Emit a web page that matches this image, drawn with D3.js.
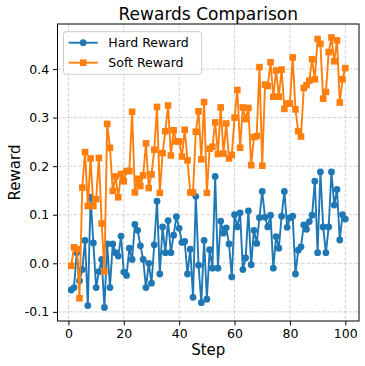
<!DOCTYPE html>
<html>
<head>
<meta charset="utf-8">
<script src="https://cdn.jsdelivr.net/npm/d3@7"></script>
<style>
  body { margin: 0; background: #fff; }
  text { font-family: 'DejaVu Sans', sans-serif; fill: #000; }
</style>
</head>
<body>
<div id="chart"></div>
<script>
/* global d3 */

// values, steps 1..100
const hardReward = [
  -0.055, -0.050, 0.022, -0.036, -0.013, 0.047, -0.087, 0.136, 0.042, -0.050,
  -0.017, 0.008, -0.091, 0.040, -0.050, 0.040, 0.022, 0.015, 0.056, -0.018,
  -0.025, 0.031, 0.008, 0.080, 0.068, 0.036, 0.008, -0.050, 0.000, -0.041,
  0.038, 0.128, -0.022, 0.075, 0.022, 0.088, 0.022, 0.058, 0.096, 0.072,
  0.043, 0.045, -0.022, 0.029, -0.070, 0.138, -0.004, -0.081, 0.047, -0.074,
  0.028, -0.010, 0.179, -0.010, 0.087, 0.062, 0.073, 0.040, -0.028, 0.100,
  0.075, 0.104, -0.013, 0.011, 0.108, -0.003, 0.068, 0.041, 0.094, 0.148,
  0.095, 0.075, 0.099, -0.010, 0.055, 0.031, 0.097, 0.148, 0.074, 0.094,
  0.097, -0.022, 0.027, 0.034, 0.079, 0.070, 0.086, 0.099, 0.169, 0.022,
  0.188, 0.075, 0.022, 0.075, 0.188, 0.120, 0.152, 0.048, 0.100, 0.091,
];

const softReward = [
  -0.005, 0.033, 0.029, -0.072, 0.156, 0.229, 0.118, 0.216, 0.118, 0.132,
  0.217, 0.082, -0.017, 0.287, 0.238, 0.149, 0.179, 0.136, 0.184, 0.169,
  0.190, 0.190, 0.312, 0.146, 0.174, 0.159, 0.181, 0.247, 0.155, 0.183,
  0.234, 0.322, 0.145, 0.227, 0.272, 0.325, 0.222, 0.274, 0.251, 0.251,
  0.220, 0.275, 0.212, 0.146, 0.146, 0.271, 0.313, 0.214, 0.332, 0.145,
  0.236, 0.240, 0.290, 0.225, 0.321, 0.226, 0.288, 0.216, 0.223, 0.300,
  0.357, 0.238, 0.321, 0.297, 0.320, 0.202, 0.260, 0.262, 0.404, 0.201,
  0.368, 0.365, 0.414, 0.343, 0.397, 0.343, 0.399, 0.318, 0.329, 0.329,
  0.424, 0.317, 0.272, 0.261, 0.361, 0.367, 0.376, 0.420, 0.379, 0.462,
  0.452, 0.339, 0.353, 0.435, 0.465, 0.416, 0.459, 0.331, 0.379, 0.402,
];

const steps = hardReward.map((v, i) => i + 1);
const seriesNames = ['Hard Reward', 'Soft Reward'];
const xTicks = [0, 20, 40, 60, 80, 100];
const yTicks = [-0.1, 0.0, 0.1, 0.2, 0.3, 0.4];

const width = 365;
const height = 366;
const plot = { left: 57.5, right: 359, top: 24, bottom: 321 };
const blue = '#1f77b4';
const orange = '#ff7f0e';
const dotR = 3.4;
const sq = 6.6;

const svg = d3.select('#chart')
  .append('svg')
  .attr('width', width)
  .attr('height', height);

// matplotlib style 5% margins
const xPad = (d3.max(steps) - d3.min(steps)) * 0.05;
const x = d3.scaleLinear()
  .domain([d3.min(steps) - xPad, d3.max(steps) + xPad])
  .range([plot.left, plot.right]);

const allVals = hardReward.concat(softReward);
const yMin = d3.min(allVals);
const yMax = d3.max(allVals);
const yPad = (yMax - yMin) * 0.05;
const y = d3.scaleLinear()
  .domain([yMin - yPad, yMax + yPad])
  .range([plot.bottom, plot.top]);

// grid
const grid = svg.append('g')
  .attr('stroke', '#b0b0b0')
  .attr('stroke-opacity', 0.7)
  .attr('stroke-width', 0.8)
  .attr('stroke-dasharray', '3.7,1.6');

grid.selectAll('.gx')
  .data(xTicks)
  .enter()
  .append('line')
  .attr('x1', (d) => x(d))
  .attr('x2', (d) => x(d))
  .attr('y1', plot.top)
  .attr('y2', plot.bottom);

grid.selectAll('.gy')
  .data(yTicks)
  .enter()
  .append('line')
  .attr('x1', plot.left)
  .attr('x2', plot.right)
  .attr('y1', (d) => y(d))
  .attr('y2', (d) => y(d));

// series
const line = d3.line()
  .x((d, i) => x(steps[i]))
  .y((d) => y(d));

svg.append('path')
  .datum(hardReward)
  .attr('fill', 'none')
  .attr('stroke', blue)
  .attr('stroke-width', 1.9)
  .attr('stroke-linejoin', 'round')
  .attr('d', line);

svg.append('g')
  .selectAll('circle')
  .data(hardReward)
  .enter()
  .append('circle')
  .attr('cx', (d, i) => x(steps[i]))
  .attr('cy', (d) => y(d))
  .attr('r', dotR)
  .attr('fill', blue);

svg.append('path')
  .datum(softReward)
  .attr('fill', 'none')
  .attr('stroke', orange)
  .attr('stroke-width', 1.9)
  .attr('stroke-linejoin', 'round')
  .attr('d', line);

svg.append('g')
  .selectAll('rect')
  .data(softReward)
  .enter()
  .append('rect')
  .attr('x', (d, i) => x(steps[i]) - sq / 2)
  .attr('y', (d) => y(d) - sq / 2)
  .attr('width', sq)
  .attr('height', sq)
  .attr('fill', orange);

// axes
const xAxis = svg.append('g')
  .attr('transform', `translate(0 ${plot.bottom})`)
  .call(d3.axisBottom(x).tickValues(xTicks).tickSize(4.4).tickPadding(4)
    .tickFormat(d3.format('d')));

const yAxis = svg.append('g')
  .attr('transform', `translate(${plot.left} 0)`)
  .call(d3.axisLeft(y).tickValues(yTicks).tickSize(4.4).tickPadding(4)
    .tickFormat((d) => d.toFixed(1)));

[xAxis, yAxis].forEach((ax) => {
  ax.select('.domain').remove();
  ax.selectAll('.tick line').attr('stroke', '#000').attr('stroke-width', 1);
  ax.selectAll('.tick text')
    .style('font-size', '12.5px')
    .style('font-family', "'DejaVu Sans', sans-serif")
    .attr('fill', '#000');
});

svg.append('rect')
  .attr('x', plot.left)
  .attr('y', plot.top)
  .attr('width', plot.right - plot.left)
  .attr('height', plot.bottom - plot.top)
  .attr('fill', 'none')
  .attr('stroke', '#000')
  .attr('stroke-width', 1);

// title and labels
svg.append('text')
  .attr('x', (plot.left + plot.right) / 2)
  .attr('y', 19.5)
  .attr('text-anchor', 'middle')
  .style('font-size', '17px')
  .text('Rewards Comparison');

svg.append('text')
  .attr('x', (plot.left + plot.right) / 2)
  .attr('y', 354.5)
  .attr('text-anchor', 'middle')
  .style('font-size', '15px')
  .text('Step');

svg.append('text')
  .attr('transform', `translate(20 ${(plot.top + plot.bottom) / 2}) rotate(-90)`)
  .attr('text-anchor', 'middle')
  .style('font-size', '15px')
  .text('Reward');

// legend
const legend = svg.append('g')
  .attr('transform', 'translate(63.5 31.7)');

legend.append('rect')
  .attr('width', 138.2)
  .attr('height', 42.6)
  .attr('rx', 2.5)
  .attr('fill', '#fff')
  .attr('fill-opacity', 0.8)
  .attr('stroke', '#cccccc')
  .attr('stroke-width', 1);

const colors = [blue, orange];
seriesNames.forEach((name, i) => {
  const row = legend.append('g')
    .attr('transform', `translate(0 ${11 + i * 20})`);
  row.append('line')
    .attr('x1', 5.2)
    .attr('x2', 34.2)
    .attr('stroke', colors[i])
    .attr('stroke-width', 1.9);
  if (i === 0) {
    row.append('circle')
      .attr('cx', 19.7)
      .attr('r', dotR)
      .attr('fill', colors[i]);
  } else {
    row.append('rect')
      .attr('x', 19.7 - sq / 2)
      .attr('y', -sq / 2)
      .attr('width', sq)
      .attr('height', sq)
      .attr('fill', colors[i]);
  }
  row.append('text')
    .attr('x', 44.8)
    .attr('y', 4.5)
    .style('font-size', '12.5px')
    .text(name);
});
</script>
</body>
</html>
